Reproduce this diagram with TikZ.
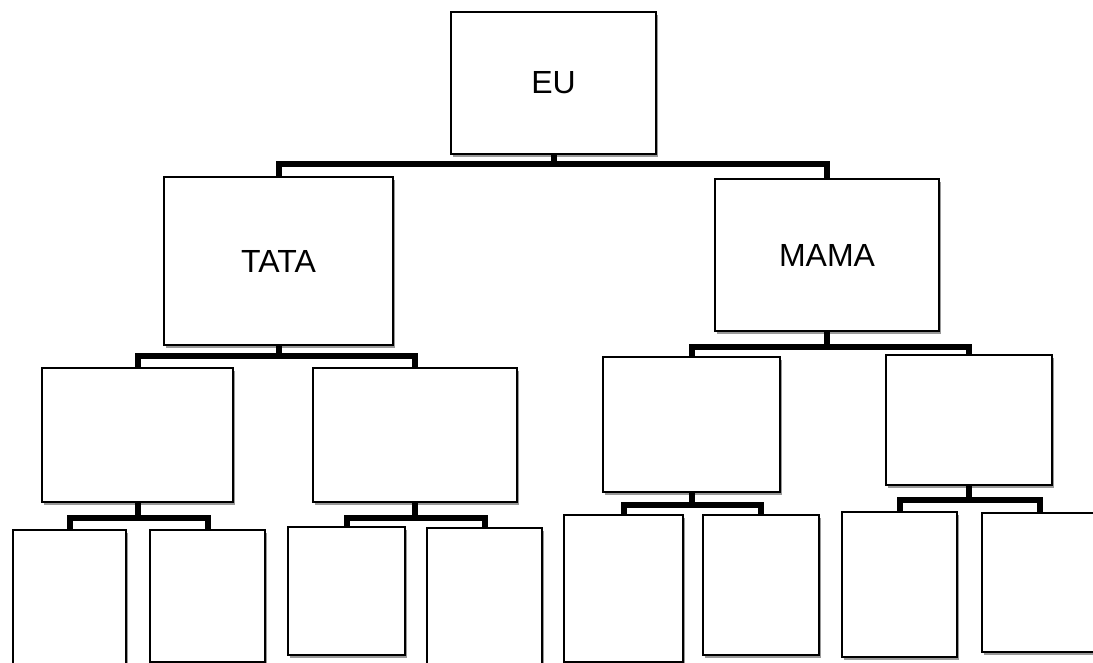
\documentclass[tikz,border=0pt]{standalone}
\usepackage{fontspec}
\setmainfont{Liberation Sans}
\usetikzlibrary{shadows}
\tikzset{
  box/.style={draw=black, line width=2.4pt, fill=white, inner sep=0pt,
    font=\fontsize{32}{36}\selectfont,
    drop shadow={shadow xshift=1.5pt, shadow yshift=-3pt, opacity=0.4, fill=black}},
  conn/.style={draw=black, line width=6pt, line cap=butt, line join=miter}
}
\newcommand{\bx}[6]{%
  \node[box, minimum width={(#4-#2)*1pt}, minimum height={(#5-#3)*1pt}]
    (#1) at ({(#2+#4)/2},{(#3+#5)/2}) {#6};}
\begin{document}
\begin{tikzpicture}[x=1pt, y=-1pt]
\clip (0,0) rectangle (1093,663);
\fill[white] (0,0) rectangle (1093,663);
% boxes
\bx{eu}{451}{12}{656}{154}{EU}
\bx{tata}{164}{177}{393}{345}{TATA}
\bx{mama}{715}{179}{939}{331}{MAMA}
\bx{a}{42}{368}{233}{502}{}
\bx{b}{313}{368}{517}{502}{}
\bx{c}{603}{357}{780}{492}{}
\bx{d}{886}{355}{1052}{485}{}
\bx{aa}{13}{530}{126}{672}{}
\bx{ab}{150}{530}{265}{662}{}
\bx{ba}{288}{527}{405}{655}{}
\bx{bb}{427}{528}{542}{668}{}
\bx{ca}{564}{515}{683}{662}{}
\bx{cb}{703}{515}{819}{655}{}
\bx{da}{842}{512}{957}{657}{}
\bx{db}{982}{513}{1098}{652}{}
% bar levels
\coordinate (ybar0) at (0,164);
\coordinate (ybar1) at (0,356);
\coordinate (ybar2) at (0,347);
\coordinate (ybar3) at (0,518);
\coordinate (ybar4) at (0,518);
\coordinate (ybar5) at (0,505);
\coordinate (ybar6) at (0,500);
% connectors
\draw[conn] (eu.south) -- (eu.south |- ybar0) -| (tata.north);
\draw[conn] (eu.south) -- (eu.south |- ybar0) -| (mama.north);
\draw[conn] (tata.south) -- (tata.south |- ybar1) -| (a.north);
\draw[conn] (tata.south) -- (tata.south |- ybar1) -| (b.north);
\draw[conn] (mama.south) -- (mama.south |- ybar2) -| (c.north);
\draw[conn] (mama.south) -- (mama.south |- ybar2) -| (d.north);
\draw[conn] (a.south) -- (a.south |- ybar3) -| (aa.north);
\draw[conn] (a.south) -- (a.south |- ybar3) -| (ab.north);
\draw[conn] (b.south) -- (b.south |- ybar4) -| (ba.north);
\draw[conn] (b.south) -- (b.south |- ybar4) -| (bb.north);
\draw[conn] (c.south) -- (c.south |- ybar5) -| (ca.north);
\draw[conn] (c.south) -- (c.south |- ybar5) -| (cb.north);
\draw[conn] (d.south) -- (d.south |- ybar6) -| (da.north);
\draw[conn] (d.south) -- (d.south |- ybar6) -| (db.north);
\end{tikzpicture}
\end{document}
